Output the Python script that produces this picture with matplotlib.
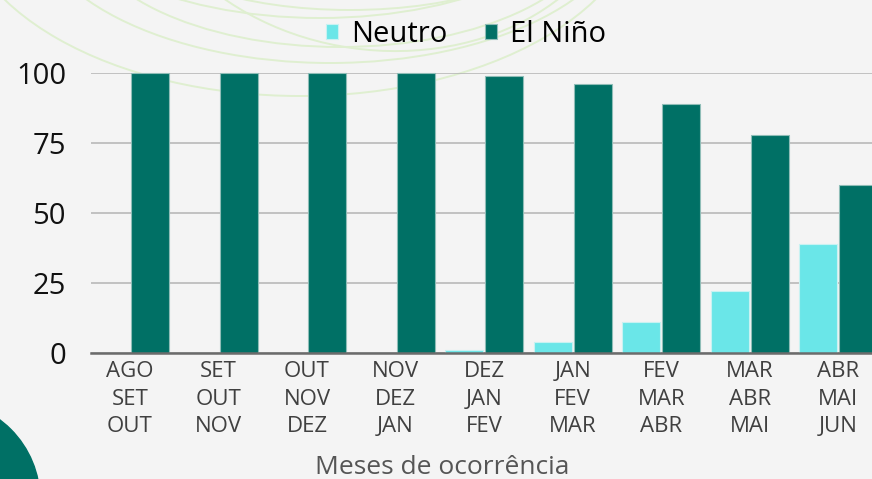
import matplotlib
matplotlib.use("Agg")
import matplotlib.pyplot as plt
from matplotlib.patches import Ellipse, Circle
import numpy as np

plt.rcParams['font.family'] = ['Open Sans', 'DejaVu Sans']

# dados
meses = ["AGO\nSET\nOUT", "SET\nOUT\nNOV", "OUT\nNOV\nDEZ", "NOV\nDEZ\nJAN",
         "DEZ\nJAN\nFEV", "JAN\nFEV\nMAR", "FEV\nMAR\nABR", "MAR\nABR\nMAI",
         "ABR\nMAI\nJUN"]
neutro = [0, 0, 0, 0, 1, 4, 11, 22, 39]
el_nino = [100, 100, 100, 100, 99, 96, 89, 78, 60]
yticks = [0, 25, 50, 75, 100]

c_neutro = '#6ae6e8'
c_nino = '#007065'
bg = '#f4f4f4'

W, H = 872, 479
fig = plt.figure(figsize=(W / 100, H / 100), dpi=100, facecolor=bg)

# fundo decorativo (arcos e circulo)
deco = fig.add_axes([0, 0, 1, 1], zorder=0)
deco.set_xlim(0, W)
deco.set_ylim(H, 0)
deco.axis('off')
arcs = [(300, -100, 343, 196, 0), (330, -90, 300, 153, 0), (340, -80, 260, 127, 0),
        (320, -120, 280, 138, 0), (350, -60, 200, 70, 0), (380, -150, 250, 200, 8)]
for cx, cy, a, b, ang in arcs:
    deco.add_patch(Ellipse((cx, cy), 2 * a, 2 * b, angle=ang, fill=False,
                           ec='#dfefd0', lw=1.4))
deco.add_patch(Circle((-60, 500), 100, color=c_nino))

ax = fig.add_axes([91 / W, (H - 353) / H, (W - 91) / W, 280 / H], zorder=1)
ax.set_facecolor('none')

x = np.arange(len(meses))
w = 0.43
off = 0.227
b1 = ax.bar(x - off, neutro, w, color=c_neutro, edgecolor='#c8f2f2', lw=0.8,
            label='Neutro', zorder=3)
b2 = ax.bar(x + off, el_nino, w, color=c_nino, edgecolor='#8fbdb7', lw=0.8,
            label='El Niño', zorder=3)
for p in list(b1) + list(b2):
    p.set_clip_on(False)

ax.set_xlim(-0.44, 8.38)
ax.set_ylim(0, 100)
ax.set_yticks(yticks)
ax.set_yticklabels([str(v) for v in yticks], fontsize=21, color='#111111')
ax.yaxis.grid(True, color='#b3b3b3', lw=1.1, zorder=0)
ax.set_axisbelow(True)
for s in ['top', 'right', 'left']:
    ax.spines[s].set_visible(False)
ax.spines['bottom'].set_color('#6b6b6b')
ax.spines['bottom'].set_linewidth(1.8)
ax.spines['bottom'].set_zorder(4)
ax.tick_params(axis='y', length=0, pad=18)
ax.tick_params(axis='x', length=0, pad=6)
ax.set_xticks(x)
ax.set_xticklabels(meses, fontsize=16, color='#404040', linespacing=1.4)

fig.text(442 / W, 1 - 474 / H, 'Meses de ocorrência', fontsize=19,
         color='#555555', ha='center', va='baseline')

fig.legend(handles=[b1, b2], labels=['Neutro', 'El Niño'], loc='center',
           bbox_to_anchor=(466 / W, 1 - 34 / H), ncol=2, frameon=False,
           fontsize=21, handlelength=0.42, handleheight=0.42,
           handletextpad=0.45, columnspacing=1.3, borderpad=0)

fig.savefig('out.png', dpi=100, facecolor=bg)
